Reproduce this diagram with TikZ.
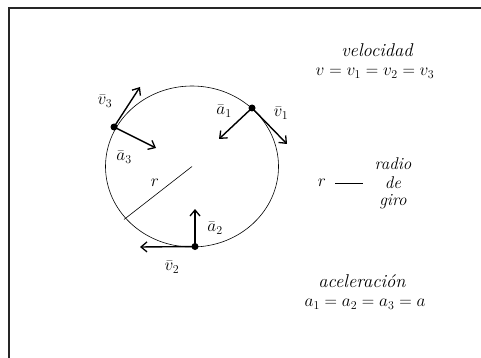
\documentclass[tikz,border=0pt]{standalone}
\usetikzlibrary{arrows.meta}
\begin{document}
\begin{tikzpicture}[x=1pt,y=-1pt,
  vec/.style={line width=1.4pt,-{Straight Barb[length=6pt,width=10pt,line width=1.3pt]}},
  lbl/.style={inner sep=0pt,font=\fontsize{17}{19}\selectfont},
  txt/.style={inner sep=0pt,font=\fontsize{18.5}{20}\selectfont\itshape},
  stxt/.style={inner sep=0pt,font=\fontsize{17}{18}\selectfont\itshape},
  dot/.style={circle,fill=black,inner sep=0pt,minimum size=7pt}]
\useasboundingbox (0,0) rectangle (481,358);
% frame (only top and left edges visible)
\draw[line width=1.4pt,black!85] (9,358) -- (9,8) -- (481,8);
% circle
\coordinate (O) at (192,166.5);
\draw[line width=0.6pt] (O) ellipse [x radius=86.5, y radius=80.5];
% radius
\coordinate (R) at (124,219.5);
\draw[line width=0.6pt] (R) -- (O);
\node[lbl] (r) at (155,183) {$r$};
% points
\node[dot] (P1) at (252,108) {};
\node[dot] (P3) at (114,127) {};
\node[dot] (P2) at (195,246.5) {};
% vectors
\coordinate (A1) at (219,139);
\coordinate (V1) at (287,144);
\coordinate (A3) at (156,148);
\coordinate (V3) at (140,87);
\coordinate (A2) at (195,209);
\coordinate (V2) at (140,247);
\draw[vec] (P1.center) -- (A1);
\draw[vec] (P1.center) -- (V1);
\draw[vec] (P3.center) -- (A3);
\draw[vec] (P3.center) -- (V3);
\draw[vec] (P2.center) -- (A2);
\draw[vec] (P2.center) -- (V2);
% labels
\node[lbl] (lv3) at (105,101) {$\bar{v}_3$};
\node[lbl] (la3) at (124,157) {$\bar{a}_3$};
\node[lbl] (la1) at (224,111) {$\bar{a}_1$};
\node[lbl] (lv1) at (281,113) {$\bar{v}_1$};
\node[lbl] (la2) at (215,228) {$\bar{a}_2$};
\node[lbl] (lv2) at (172,267) {$\bar{v}_2$};
% right texts
\node[txt] (vel) at (377,50) {velocidad};
\node[lbl] (veq) at (375,73) {$v = v_1 = v_2 = v_3$};
\node[lbl] (r2) at (322,183) {$r$};
\coordinate (d1) at (335,183);
\coordinate (d2) at (363,183);
\draw[line width=0.6pt] (d1) -- (d2);
\node[stxt] (radio) at (393,164) {radio};
\node[stxt] (de) at (393,182.5) {de};
\node[stxt] (giro) at (393,202) {giro};
\node[txt] (acel) at (362,281) {aceleraci\'on};
\node[lbl] (aeq) at (365,304) {$a_1 = a_2 = a_3 = a$};
\end{tikzpicture}
\end{document}
